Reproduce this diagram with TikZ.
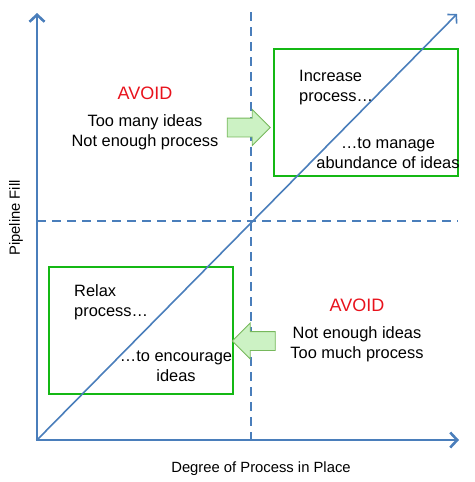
\documentclass[tikz,border=0pt]{standalone}
\usepackage{fontspec}
\setmainfont{Liberation Sans}
\usetikzlibrary{
arrows.meta,
positioning,
shapes.arrows
}
\definecolor{axisblue}{RGB}{74,126,187}
\definecolor{boxgreen}{RGB}{20,184,20}
\definecolor{hintfill}{RGB}{204,242,196}
\definecolor{hintdraw}{RGB}{118,184,92}
\definecolor{avoidred}{RGB}{232,18,28}

\begin{document}
\begin{tikzpicture}[
x=1pt,y=-1pt,
axis/.style={
draw=axisblue,
line width=2.6pt,
-{Straight Barb[length=7pt,width=15pt]}
},
split/.style={draw=axisblue,line width=1.8pt,dash pattern=on 9pt off 6pt},
trend/.style={draw=axisblue,line width=1.6pt,-{Straight Barb[length=6pt,width=13pt]}},
advice/.style={
draw=boxgreen,
line width=2.4pt,
minimum width=184pt,
minimum height=127pt,
inner sep=0pt
},
hint/.style={
single arrow,
draw=hintdraw,
fill=hintfill,
line width=0.8pt,
inner xsep=0pt,
inner ysep=9pt,
single arrow head extend=8.5pt,
minimum height=43pt
},
warn/.style={text=avoidred,font=\fontsize{18}{22}\selectfont},
body/.style={font=\fontsize{16.4}{20}\selectfont,inner sep=0pt},
axislabel/.style={font=\fontsize{14.8}{17}\selectfont}
]

\useasboundingbox (0,0) rectangle (474,482);

% axes and quadrant split
\coordinate (origin) at (37,440);
\coordinate (ytop) at (37,13);
\coordinate (xend) at (459,440);
\coordinate (diagend) at (457,14);
\coordinate (vtop) at (251,12);
\coordinate (vbot) at (251,440);
\coordinate (hleft) at (37,221);
\coordinate (hright) at (458,221);

\draw[split] (vtop) -- (vbot);
\draw[split] (hleft) -- (hright);

\draw[axis] ([yshift=1.3pt]origin) -- (ytop);
\draw[axis] ([xshift=-1.3pt]origin) -- (xend);

\node[axislabel,rotate=90] (yname) at (16,218) {Pipeline Fill};
\node[axislabel] (xname) at (261,469) {Degree of Process in Place};

% green boxes
\node[advice] (boxTR) at (366,112.5) {};
\node[advice] (boxBL) at (141,330.5) {};

\draw[trend] (origin) -- (diagend);

% top left quadrant
\node[warn] (avoidTL) at (145,93) {AVOID};
\node[body,align=center] (causeTL) at (145,132) {Too many ideas\\Not enough process};
\node[hint] (toRight) at (244,127.5) {};

% top right box
\node[body,align=left,anchor=west] (doTR) at (299,88) {Increase\\process\dots};
\node[body,align=center] (whyTR) at (388,153) {\dots to manage\\abundance of ideas};

% bottom left box
\node[body,align=left,anchor=west] (doBL) at (74,302) {Relax\\process\dots};
\node[body,align=center] (whyBL) at (176,366) {\dots to encourage\\ideas};

% bottom right quadrant
\node[warn] (avoidBR) at (357,305) {AVOID};
\node[body,align=center] (causeBR) at (357,344) {Not enough ideas\\Too much process};
\node[hint,shape border rotate=180] (toLeft) at (258.5,341) {};

\end{tikzpicture}
\end{document}
